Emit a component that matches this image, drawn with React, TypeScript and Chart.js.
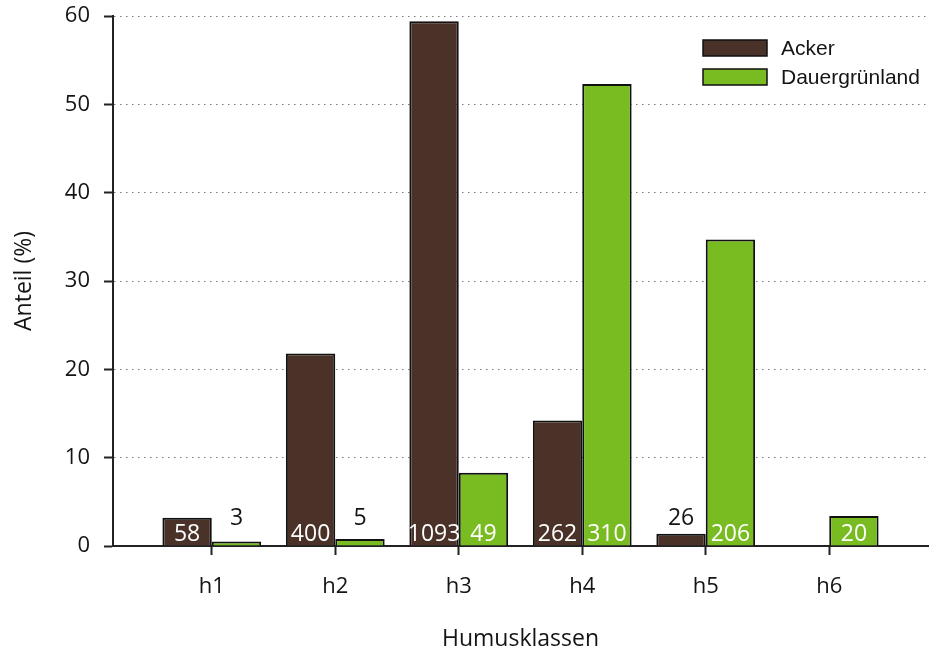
import React, { useEffect, useRef } from 'react';
import { Chart, registerables } from 'chart.js';

Chart.register(...registerables);

const categories = ['h1', 'h2', 'h3', 'h4', 'h5', 'h6'];
const ackerPct: (number | null)[] = [3.2, 21.8, 59.4, 14.2, 1.4, null];
const gruenPct: (number | null)[] = [0.5, 0.8, 8.3, 52.3, 34.7, 3.4];
const ackerCount = ['58', '400', '1093', '262', '26', ''];
const gruenCount = ['3', '5', '49', '310', '206', '20'];
const seriesNames = ['Acker', 'Dauergrünland'];
const seriesColors = ['#4a3228', '#78bc21'];
const yMin = 0;
const yMax = 60;
const yStep = 10;
const xTitle = 'Humusklassen';
const yTitle = 'Anteil (%)';

const TEXT = '#141414';
const FONT = "'Open Sans', sans-serif";

const countLabels = [ackerCount, gruenCount];

const labelPlugin = {
  id: 'countLabels',
  afterDatasetsDraw(chart: any) {
    const ctx = chart.ctx;
    const yScale = chart.scales.y;
    const zero = yScale.getPixelForValue(0);
    ctx.save();
    ctx.font = `23px ${FONT}`;
    ctx.textAlign = 'center';
    ctx.textBaseline = 'alphabetic';
    chart.data.datasets.forEach((ds: any, di: number) => {
      const meta = chart.getDatasetMeta(di);
      meta.data.forEach((bar: any, i: number) => {
        const txt = countLabels[di][i];
        const v = ds.data[i].y;
        if (!txt || v == null) return;
        if (v < 2) {
          ctx.fillStyle = TEXT;
          ctx.fillText(txt, bar.x, zero - 21);
        } else {
          ctx.fillStyle = '#ffffff';
          ctx.fillText(txt, bar.x, zero - 5);
        }
      });
    });
    ctx.restore();
  },
};

const legendPlugin = {
  id: 'customLegend',
  afterDraw(chart: any) {
    const ctx = chart.ctx;
    const area = chart.chartArea;
    const bx = area.right - 225;
    const by = area.top + 24;
    ctx.save();
    seriesNames.forEach((name, i) => {
      const y = by + i * 29;
      ctx.fillStyle = seriesColors[i];
      ctx.fillRect(bx, y, 64, 16);
      ctx.strokeStyle = '#111';
      ctx.lineWidth = 1.5;
      ctx.strokeRect(bx, y, 64, 16);
      ctx.fillStyle = TEXT;
      ctx.font = "21px 'Liberation Sans', Arial, sans-serif";
      ctx.textAlign = 'left';
      ctx.textBaseline = 'middle';
      ctx.fillText(name, bx + 78, y + 9);
    });
    ctx.restore();
  },
};

export default function App() {
  const ref = useRef<HTMLCanvasElement>(null);

  useEffect(() => {
    if (!ref.current) return;
    const chart = new Chart(ref.current, {
      type: 'bar',
      data: {
        datasets: [
          {
            label: seriesNames[0],
            data: ackerPct.map((v, i) => ({ x: i + 1, y: v })) as any,
            backgroundColor: seriesColors[0],
            borderColor: '#111',
            borderWidth: 2,
            categoryPercentage: 0.8,
            barPercentage: 1.0,
          },
          {
            label: seriesNames[1],
            data: gruenPct.map((v, i) => ({ x: i + 1, y: v })) as any,
            backgroundColor: seriesColors[1],
            borderColor: '#111',
            borderWidth: 2,
            categoryPercentage: 0.8,
            barPercentage: 1.0,
          },
        ],
      },
      options: {
        animation: false,
        responsive: false,
        devicePixelRatio: 1,
        layout: { padding: { left: 0, right: 8, top: 16, bottom: 0 } },
        plugins: {
          legend: { display: false },
          tooltip: { enabled: false },
        },
        scales: {
          x: {
            type: 'linear',
            offset: false,
            min: 0.2,
            max: categories.length + 0.8,
            afterBuildTicks: (s: any) => {
              s.ticks = categories.map((_, i) => ({ value: i + 1 }));
            },
            afterFit: (s: any) => {
              s.height = 109;
              s.paddingLeft = 0;
              s.paddingRight = 0;
            },
            ticks: {
              autoSkip: false,
              maxRotation: 0,
              padding: 19,
              color: TEXT,
              font: { family: FONT, size: 22 },
              callback: (v: any) => categories[Math.round(Number(v)) - 1] ?? '',
            },
            grid: {
              display: true,
              offset: false,
              drawOnChartArea: false,
              drawTicks: true,
              tickLength: 9,
              tickColor: '#222',
              tickWidth: 2,
            },
            border: { display: true, color: '#222', width: 2 },
            title: {
              display: true,
              text: xTitle,
              color: TEXT,
              font: { family: FONT, size: 23 },
              padding: { top: 0, bottom: 2 },
            },
          },
          y: {
            min: yMin,
            max: yMax,
            afterFit: (s: any) => {
              s.width = 113;
              s.paddingTop = 0;
              s.paddingBottom = 0;
            },
            ticks: {
              stepSize: yStep,
              padding: 14,
              color: TEXT,
              font: { family: FONT, size: 22 },
            },
            grid: {
              display: true,
              drawOnChartArea: true,
              drawTicks: true,
              color: '#7a7a7a',
              lineWidth: 1,
              tickLength: 9,
              tickColor: '#222',
              tickWidth: 2,
            },
            border: { display: true, color: '#222', width: 2, dash: [1.5, 4.5] },
            title: {
              display: true,
              text: yTitle,
              color: TEXT,
              font: { family: FONT, size: 23 },
              padding: { top: 11, bottom: 0 },
            },
          },
        },
      } as any,
      plugins: [labelPlugin, legendPlugin],
    });
    return () => chart.destroy();
  }, []);

  return (
    <div style={{ position: 'absolute', left: 0, top: 0, width: 936, height: 655, background: '#fff' }}>
      <canvas ref={ref} width={936} height={655} />
    </div>
  );
}
